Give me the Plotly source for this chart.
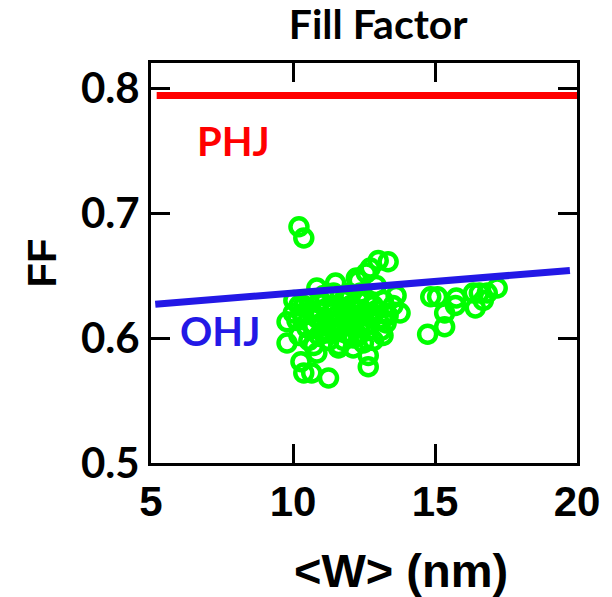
import plotly.graph_objects as go

# Scatter data: <W> (nm) vs FF
w_nm = [10.21, 10.38, 13.35, 13.00, 12.72, 12.58, 12.30, 12.23, 11.50, 10.84,
        12.93, 13.63, 13.77, 13.28, 13.17, 10.21, 9.79, 9.79, 10.28, 10.38,
        10.66, 11.25, 10.84, 12.65, 12.65, 11.60, 12.12,
        10.03, 10.38, 10.56, 10.73, 10.91, 11.08, 11.26, 11.43, 11.61, 11.78,
        11.96, 12.13, 12.31, 12.48, 12.66, 12.83, 13.01, 13.18, 13.35, 10.21,
        10.56, 10.91, 11.26, 11.78, 12.13, 12.48, 12.83, 10.14, 10.49, 10.84,
        11.19, 11.54, 11.89, 12.24, 12.59, 12.93, 11.43, 11.96, 12.38, 11.08,
        11.68, 12.03, 12.76, 13.10, 10.73, 11.61, 12.31, 10.38, 10.97, 11.33,
        12.41, 13.28, 10.01, 10.63, 11.78, 13.52,
        10.70, 11.00, 11.35, 11.70, 12.00, 12.35, 12.70, 10.90, 11.20, 11.50,
        11.85, 12.20, 12.55,
        14.85, 15.09, 15.34, 15.34, 14.74, 15.75, 15.72, 16.35, 16.56, 16.42,
        16.84, 17.19, 16.70]
ff = [0.689, 0.680, 0.661, 0.662, 0.656, 0.652, 0.646, 0.648, 0.644, 0.640,
      0.642, 0.634, 0.620, 0.620, 0.602, 0.626, 0.613, 0.596, 0.581, 0.572,
      0.572, 0.568, 0.588, 0.586, 0.577, 0.592, 0.592,
      0.630, 0.618, 0.630, 0.610, 0.622, 0.634, 0.614, 0.626, 0.606, 0.630,
      0.618, 0.610, 0.630, 0.618, 0.606, 0.626, 0.614, 0.630, 0.618, 0.602,
      0.598, 0.602, 0.598, 0.598, 0.600, 0.596, 0.598, 0.614, 0.608, 0.616,
      0.624, 0.618, 0.612, 0.622, 0.630, 0.622, 0.636, 0.636, 0.636, 0.606,
      0.616, 0.626, 0.616, 0.606, 0.594, 0.594, 0.602, 0.626, 0.630, 0.608,
      0.612, 0.612, 0.620, 0.622, 0.622, 0.626,
      0.620, 0.612, 0.620, 0.610, 0.620, 0.608, 0.620, 0.628, 0.604, 0.612,
      0.604, 0.614, 0.610,
      0.633, 0.633, 0.620, 0.609, 0.603, 0.632, 0.626, 0.636, 0.636, 0.624,
      0.636, 0.640, 0.630]

# Reference lines
phj_x = [5.2, 20.3]
phj_y = [0.794, 0.794]
ohj_x = [5.15, 19.75]
ohj_y = [0.627, 0.654]

x_ticks = [5, 10, 15, 20]
y_ticks = [0.5, 0.6, 0.7, 0.8]

RED = "#ff0000"
BLUE = "#2318e6"
GREEN = "#00ff00"
CAL = "Lato, Open Sans, sans-serif"
ARI = "Liberation Sans, Arial, sans-serif"

fig = go.Figure()
fig.add_trace(go.Scatter(x=w_nm, y=ff, mode="markers",
                         marker=dict(symbol="circle-open", size=17, color=GREEN,
                                     line=dict(width=4.5, color=GREEN)),
                         showlegend=False, cliponaxis=False))
fig.add_trace(go.Scatter(x=phj_x, y=phj_y, mode="lines",
                         line=dict(color=RED, width=7), showlegend=False, cliponaxis=False))
fig.add_trace(go.Scatter(x=ohj_x, y=ohj_y, mode="lines",
                         line=dict(color=BLUE, width=7), showlegend=False, cliponaxis=False))

fig.add_annotation(x=7.9, y=0.758, text="PHJ", showarrow=False,
                   font=dict(family=CAL, size=40, color=RED, weight="bold"))
fig.add_annotation(x=7.42, y=0.606, text="OHJ", showarrow=False,
                   font=dict(family=CAL, size=40, color=BLUE, weight="bold"))
# x-axis title (offset to the right as in the reference)
fig.add_annotation(xref="paper", yref="paper", x=0.586, y=-0.2675, text="&lt;W&gt; (nm)",
                   showarrow=False, xanchor="center", yanchor="middle",
                   font=dict(family=ARI, size=47, color="black", weight="bold"))

axis_common = dict(showline=True, linecolor="black", linewidth=3, mirror="ticks",
                   ticks="inside", ticklen=19, tickwidth=3, tickcolor="black",
                   showgrid=False, zeroline=False)

fig.update_layout(
    width=612, height=597,
    margin=dict(l=151, r=31, t=63, b=134),
    plot_bgcolor="white", paper_bgcolor="white",
    title=dict(text="Fill Factor", x=0.618, xanchor="center", y=0.958, yanchor="middle",
               font=dict(family=CAL, size=41, color="black", weight="bold")),
    xaxis=dict(range=[5, 20], tickvals=x_ticks, ticktext=[str(v) for v in x_ticks],
               tickfont=dict(family=ARI, size=42, color="black", weight="bold"),
               **axis_common),
    yaxis=dict(range=[0.5, 0.82], tickvals=y_ticks, ticktext=["%.1f" % v for v in y_ticks],
               tickfont=dict(family=CAL, size=42, color="black", weight="bold"),
               title=dict(text="FF", font=dict(family=ARI, size=40, color="black", weight="bold"),
                          standoff=12),
               **axis_common),
)

fig.write_html("out.html")
